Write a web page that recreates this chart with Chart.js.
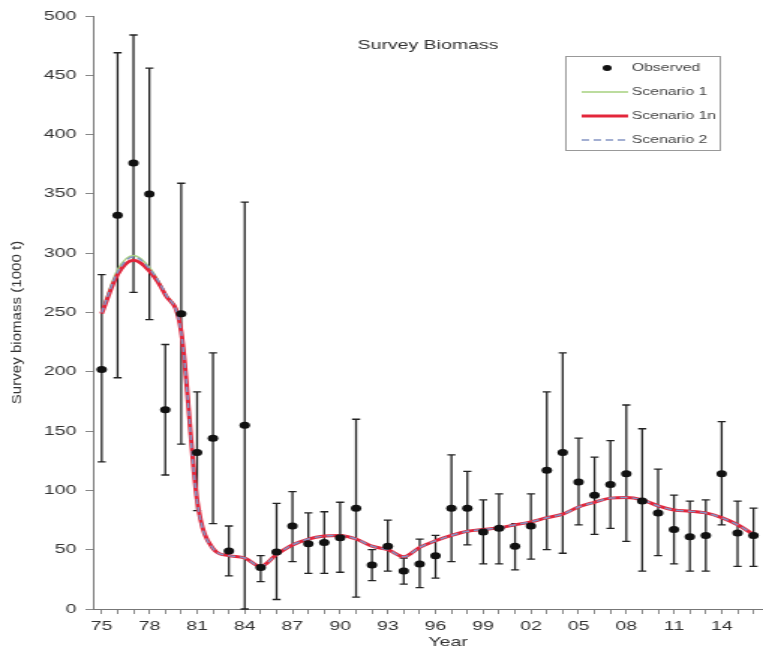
<!DOCTYPE html>
<html>
<head>
<meta charset="utf-8">
<script src="https://cdn.jsdelivr.net/npm/chart.js@4.4.1/dist/chart.umd.min.js"></script>
<style>
  html, body { margin: 0; padding: 0; background: #fff; overflow: hidden; }
  #wrap { width: 509px; height: 650px; transform: scaleX(1.49902); transform-origin: 0 0; }
  #c { display: block; }
</style>
</head>
<body>
<div id="wrap"><canvas id="c" width="509" height="650" style="width:509px;height:650px"></canvas></div>
<script>
const years = [1975,1976,1977,1978,1979,1980,1981,1982,1983,1984,1985,1986,1987,1988,1989,1990,1991,1992,1993,1994,1995,1996,1997,1998,1999,2000,2001,2002,2003,2004,2005,2006,2007,2008,2009,2010,2011,2012,2013,2014,2015,2016];
const observed = [202,332,376,350,168,249,132,144,49,155,35,48,70,55,56,60,85,37,53,32,38,45,85,85,65,68,53,70,117,132,107,96,105,114,91,81,67,61,62,114,64,62];
const obsLow   = [124,195,267,244,113,139,83,72,28,0,23,8,40,30,30,31,10,24,32,21,18,26,40,54,38,38,33,42,50,47,71,63,68,57,32,45,38,32,32,71,36,36];
const obsHigh  = [282,469,484,456,223,359,183,216,70,343,45,89,99,81,82,90,160,50,75,43,59,62,130,116,92,97,72,97,183,216,144,128,142,172,152,118,96,91,92,158,91,85];
const scenario1  = [251,286,298,288,266,235,92,51,45,43,36,46,54,59,61.5,62,59,53,50,44,52,57.5,62,65.5,67,68.5,71,73.5,77,80,86,90,93.5,94,92,87,83.5,82.5,81,77,71,63];
const scenario1n = [249,282,294,285,265,234,92,51,45,43,36,46,54,59,61.5,62,59,53,50,44,52,57.5,62,65.5,67,68.5,71,73.5,77,80,86,90,93.5,94,92,87,83.5,82.5,81,77,71,63];
const scenario2  = [250,284,297,287,266,233,91,51,45,43,36,46,54,59,61.5,62,59,53,50,44,52,57.5,62,65.5,67,68.5,71,73.5,77,80,86,90,93.5,94,92,87,83.5,82.5,81,77,71,63];
const xTickYears  = [1975,1978,1981,1984,1987,1990,1993,1996,1999,2002,2005,2008,2011,2014];
const xTickLabels = ['75','78','81','84','87','90','93','96','99','02','05','08','11','14'];
const yTicks = [0,50,100,150,200,250,300,350,400,450,500];

const STRETCH = 763 / 509;
const FONT = '"Liberation Sans", Arial, sans-serif';
const TEXT = '#333';

const pts = arr => years.map((yr, i) => ({ x: yr, y: arr[i] }));

const errorBars = {
  id: 'errorBars',
  beforeDatasetsDraw(chart) {
    const { ctx, scales: { x, y } } = chart;
    const cap = 2.7;
    ctx.save();
    ctx.strokeStyle = '#222';
    ctx.lineWidth = 1.3;
    years.forEach((yr, i) => {
      const px = x.getPixelForValue(yr);
      const top = y.getPixelForValue(obsHigh[i]);
      const bot = y.getPixelForValue(obsLow[i]);
      ctx.beginPath();
      ctx.moveTo(px, top); ctx.lineTo(px, bot);
      ctx.moveTo(px - cap, top); ctx.lineTo(px + cap, top);
      ctx.moveTo(px - cap, bot); ctx.lineTo(px + cap, bot);
      ctx.stroke();
    });
    ctx.restore();
  }
};

const texts = {
  id: 'texts',
  afterDraw(chart) {
    const { ctx, chartArea } = chart;
    const cx = (chartArea.left + chartArea.right) / 2;
    ctx.save();
    ctx.fillStyle = TEXT;
    ctx.font = '13px ' + FONT;
    ctx.textAlign = 'center';
    ctx.textBaseline = 'middle';
    ctx.fillText('Survey Biomass', cx, chartArea.top + 29);
    ctx.fillText('Year', cx + 13.4, chartArea.bottom + 33);
    ctx.save();
    ctx.translate(12, (chartArea.top + chartArea.bottom) / 2 + 10);
    ctx.scale(1 / STRETCH, 1);
    ctx.rotate(-Math.PI / 2);
    ctx.scale(1.16, 1);
    ctx.fillText('Survey biomass (1000 t)', 0, 0);
    ctx.restore();

    const bx = 377, by = 56, bw = 103, bh = 94;
    ctx.strokeStyle = '#999';
    ctx.lineWidth = 1;
    ctx.strokeRect(bx + 0.5, by + 0.5, bw, bh);
    ctx.font = '10.5px ' + FONT;
    ctx.textAlign = 'left';
    ctx.fillStyle = '#444';
    chart.data.datasets.forEach((ds, i) => {
      const yy = by + 12 + i * 24;
      if (ds.showLine === false) {
        ctx.beginPath();
        ctx.fillStyle = ds.pointBackgroundColor;
        ctx.arc(405, yy, 3, 0, Math.PI * 2);
        ctx.fill();
      } else {
        ctx.beginPath();
        ctx.strokeStyle = ds.borderColor;
        ctx.lineWidth = ds.borderWidth;
        ctx.setLineDash(ds.borderDash || []);
        ctx.moveTo(388, yy);
        ctx.lineTo(419, yy);
        ctx.stroke();
        ctx.setLineDash([]);
      }
      ctx.fillStyle = '#444';
      ctx.fillText(ds.label, 421.6, yy);
    });
    ctx.restore();
  }
};

new Chart(document.getElementById('c'), {
  type: 'scatter',
  data: {
    datasets: [
      { label: 'Observed', data: pts(observed), showLine: false, pointRadius: 3.5, pointBackgroundColor: '#111', pointBorderWidth: 0, order: 0 },
      { label: 'Scenario 1', data: pts(scenario1), showLine: true, borderColor: '#a6d07e', borderWidth: 1.5, pointRadius: 0, cubicInterpolationMode: 'monotone', order: 3 },
      { label: 'Scenario 1n', data: pts(scenario1n), showLine: true, borderColor: '#e3263b', borderWidth: 3, pointRadius: 0, cubicInterpolationMode: 'monotone', order: 2 },
      { label: 'Scenario 2', data: pts(scenario2), showLine: true, borderColor: '#8595c4', borderWidth: 1.5, borderDash: [5, 3], pointRadius: 0, cubicInterpolationMode: 'monotone', order: 1 }
    ]
  },
  options: {
    responsive: false,
    animation: false,
    events: [],
    layout: { autoPadding: false, padding: { top: 16, right: 0, bottom: 0, left: 0 } },
    plugins: { legend: { display: false }, tooltip: { enabled: false }, title: { display: false } },
    scales: {
      x: {
        type: 'linear', min: 1974.45, max: 2016.6,
        afterBuildTicks: s => { s.ticks = years.map(v => ({ value: v })); },
        afterFit: s => { s.height = 41; s.paddingRight = 0; s.paddingLeft = 0; },
        ticks: {
          autoSkip: false, maxRotation: 0, padding: 5, color: TEXT,
          font: { family: FONT, size: 13 },
          callback: v => { const i = xTickYears.indexOf(v); return i >= 0 ? xTickLabels[i] : ''; }
        },
        grid: { drawOnChartArea: false, drawTicks: true, tickLength: 5, color: '#888' },
        border: { color: '#777', width: 1 }
      },
      y: {
        min: 0, max: 500,
        afterBuildTicks: s => { s.ticks = yTicks.map(v => ({ value: v })); },
        afterFit: s => { s.width = 62; },
        ticks: { padding: 6, color: TEXT, font: { family: FONT, size: 13 } },
        grid: { drawOnChartArea: false, drawTicks: true, tickLength: 5, color: '#888' },
        border: { color: '#777', width: 1 }
      }
    }
  },
  plugins: [errorBars, texts]
});
</script>
</body>
</html>
